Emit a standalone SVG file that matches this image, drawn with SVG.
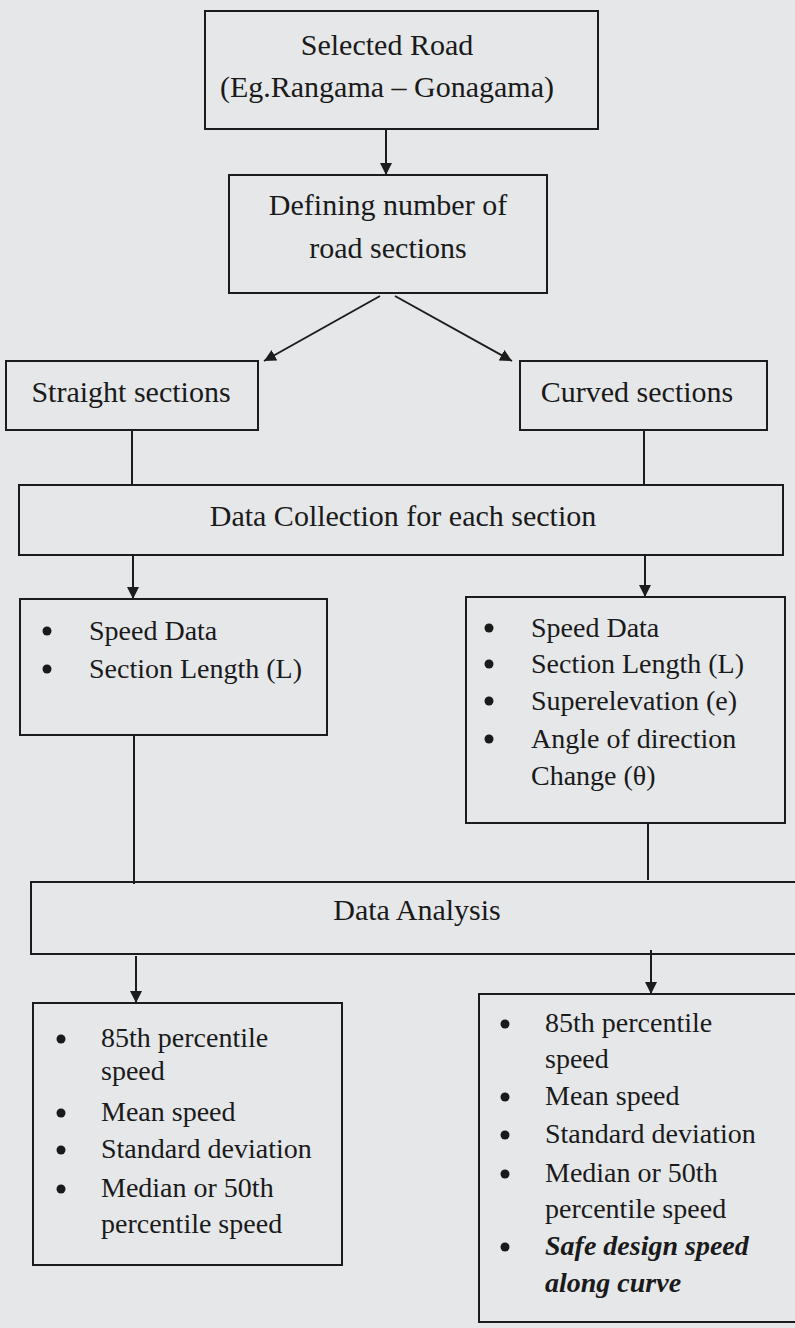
<svg xmlns="http://www.w3.org/2000/svg" width="795" height="1328" viewBox="0 0 795 1328">
<style>
.box{fill:none;stroke:#1c1c1c;stroke-width:2}
.t{font-family:"Liberation Serif","Times New Roman",serif;font-size:30px;fill:#1a1a1a}
.b{font-family:"Liberation Serif","Times New Roman",serif;font-size:28px;fill:#1a1a1a}
.bi{font-weight:bold;font-style:italic}
.dot{fill:#1a1a1a}
.c{fill:none;stroke:#1c1c1c;stroke-width:2}
</style>
<defs>
<marker id="ah" markerUnits="userSpaceOnUse" markerWidth="12" markerHeight="14" refX="12" refY="6" orient="auto">
<path d="M0,0 L12,6 L0,12 z" fill="#1c1c1c"/>
</marker>
</defs>
<rect width="795" height="1328" fill="#e5e7e9"/>
<g id="connectors">
<line class="c" x1="386" y1="129" x2="386" y2="175" marker-end="url(#ah)"/>
<line class="c" x1="380" y1="296" x2="264" y2="361" marker-end="url(#ah)"/>
<line class="c" x1="395" y1="296" x2="512" y2="361" marker-end="url(#ah)"/>
<line class="c" x1="132" y1="430" x2="132" y2="485"/>
<line class="c" x1="644" y1="430" x2="644" y2="485"/>
<line class="c" x1="133" y1="555" x2="133" y2="599" marker-end="url(#ah)"/>
<line class="c" x1="645" y1="555" x2="645" y2="597" marker-end="url(#ah)"/>
<line class="c" x1="134" y1="735" x2="134" y2="884"/>
<line class="c" x1="648" y1="823" x2="648" y2="880"/>
<line class="c" x1="136" y1="956" x2="136" y2="1003" marker-end="url(#ah)"/>
<line class="c" x1="651" y1="950" x2="651" y2="994" marker-end="url(#ah)"/>
</g>
<g id="selected-road">
<rect class="box" x="205" y="11" width="393" height="118"/>
<text class="t" x="387" y="55" text-anchor="middle">Selected Road</text>
<text class="t" x="387" y="97" text-anchor="middle">(Eg.Rangama – Gonagama)</text>
</g>
<g id="defining-sections">
<rect class="box" x="229" y="175" width="318" height="118"/>
<text class="t" x="388" y="215" text-anchor="middle">Defining number of</text>
<text class="t" x="388" y="258" text-anchor="middle">road sections</text>
</g>
<g id="straight-sections">
<rect class="box" x="6" y="361" width="252" height="69"/>
<text class="t" x="131" y="402" text-anchor="middle">Straight sections</text>
</g>
<g id="curved-sections">
<rect class="box" x="520" y="361" width="247" height="69"/>
<text class="t" x="637" y="402" text-anchor="middle">Curved sections</text>
</g>
<g id="data-collection">
<rect class="box" x="19" y="485" width="764" height="70"/>
<text class="t" x="403" y="526" text-anchor="middle">Data Collection for each section</text>
</g>
<g id="straight-data">
<rect class="box" x="20" y="599" width="307" height="136"/>
<circle class="dot" cx="47" cy="631" r="4.5"/>
<text class="b" x="89" y="640">Speed Data</text>
<circle class="dot" cx="47" cy="669" r="4.5"/>
<text class="b" x="89" y="678">Section Length (L)</text>
</g>
<g id="curved-data">
<rect class="box" x="466" y="597" width="319" height="226"/>
<circle class="dot" cx="489" cy="628" r="4.5"/>
<text class="b" x="531" y="637">Speed Data</text>
<circle class="dot" cx="489" cy="664" r="4.5"/>
<text class="b" x="531" y="673">Section Length (L)</text>
<circle class="dot" cx="489" cy="701" r="4.5"/>
<text class="b" x="531" y="710">Superelevation (e)</text>
<circle class="dot" cx="489" cy="739" r="4.5"/>
<text class="b" x="531" y="748">Angle of direction</text>
<text class="b" x="531" y="785">Change (θ)</text>
</g>
<g id="data-analysis">
<rect class="box" x="31" y="882" width="772" height="72"/>
<text class="t" x="417" y="920" text-anchor="middle">Data Analysis</text>
</g>
<g id="straight-results">
<rect class="box" x="33" y="1003" width="309" height="262"/>
<circle class="dot" cx="61" cy="1039" r="4.5"/>
<text class="b" x="101" y="1047">85th percentile</text>
<text class="b" x="101" y="1080">speed</text>
<circle class="dot" cx="61" cy="1113" r="4.5"/>
<text class="b" x="101" y="1121">Mean speed</text>
<circle class="dot" cx="61" cy="1150" r="4.5"/>
<text class="b" x="101" y="1158">Standard deviation</text>
<circle class="dot" cx="61" cy="1189" r="4.5"/>
<text class="b" x="101" y="1197">Median or 50th</text>
<text class="b" x="101" y="1233">percentile speed</text>
</g>
<g id="curved-results">
<rect class="box" x="479" y="994" width="330" height="328"/>
<circle class="dot" cx="505" cy="1024" r="4.5"/>
<text class="b" x="545" y="1032">85th percentile</text>
<text class="b" x="545" y="1068">speed</text>
<circle class="dot" cx="505" cy="1097" r="4.5"/>
<text class="b" x="545" y="1105">Mean speed</text>
<circle class="dot" cx="505" cy="1135" r="4.5"/>
<text class="b" x="545" y="1143">Standard deviation</text>
<circle class="dot" cx="505" cy="1174" r="4.5"/>
<text class="b" x="545" y="1182">Median or 50th</text>
<text class="b" x="545" y="1218">percentile speed</text>
<circle class="dot" cx="505" cy="1247" r="4.5"/>
<text class="b bi" x="545" y="1255">Safe design speed</text>
<text class="b bi" x="545" y="1292">along curve</text>
</g>
</svg>
